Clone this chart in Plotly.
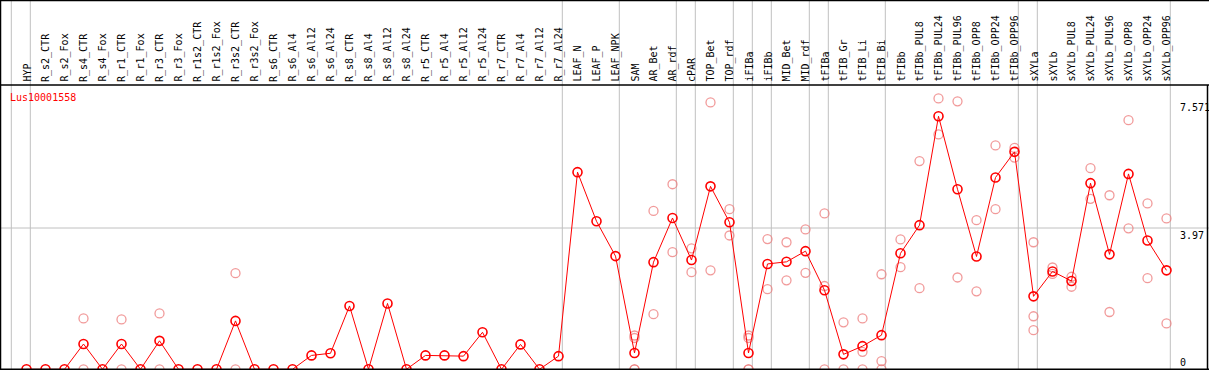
import plotly.graph_objects as go

categories = ["HYP", "R_s2_CTR", "R_s2_Fox", "R_s4_CTR", "R_s4_Fox", "R_r1_CTR", "R_r1_Fox",
              "R_r3_CTR", "R_r3_Fox", "R_r1s2_CTR", "R_r1s2_Fox", "R_r3s2_CTR", "R_r3s2_Fox",
              "R_s6_CTR", "R_s6_Al4", "R_s6_Al12", "R_s6_Al24", "R_s8_CTR", "R_s8_Al4",
              "R_s8_Al12", "R_s8_Al24", "R_r5_CTR", "R_r5_Al4", "R_r5_Al12", "R_r5_Al24",
              "R_r7_CTR", "R_r7_Al4", "R_r7_Al12", "R_r7_Al24", "LEAF_N", "LEAF_P", "LEAF_NPK",
              "SAM", "AR_Bet", "AR_rdf", "cPAR", "TOP_Bet", "TOP_rdf", "iFIBa", "iFIBb",
              "MID_Bet", "MID_rdf", "tFIBa", "tFIB_Gr", "tFIB_Li", "tFIB_Bi", "tFIBb",
              "tFIBb_PUL8", "tFIBb_PUL24", "tFIBb_PUL96", "tFIBb_OPP8", "tFIBb_OPP24",
              "tFIBb_OPP96", "sXYLa", "sXYLb", "sXYLb_PUL8", "sXYLb_PUL24", "sXYLb_PUL96",
              "sXYLb_OPP8", "sXYLb_OPP24", "sXYLb_OPP96"]

means = [0, 0, 0, 0.71, 0, 0.71, 0, 0.80, 0, 0, 0, 1.36, 0, 0, 0,
         0.39, 0.45, 1.78, 0, 1.85, 0, 0.39, 0.39, 0.37, 1.04, 0, 0.70, 0, 0.37,
         5.54, 4.16, 3.18, 0.46, 3.01, 4.25, 3.07, 5.14, 4.13, 0.46, 2.96, 3.02, 3.32,
         2.22, 0.42, 0.65, 0.96, 3.26, 4.05, 7.11, 5.06, 3.17, 5.39, 6.11, 2.05, 2.75,
         2.48, 5.23, 3.23, 5.49, 3.62, 2.78]

replicates = {
    "R_s4_CTR": [1.43, 0], "R_r1_CTR": [1.40, 0], "R_r3_CTR": [1.57, 0],
    "R_r3s2_CTR": [2.70, 0],
    "SAM": [0.95, 0.88, 0, 0], "AR_Bet": [4.45, 1.55], "AR_rdf": [5.20, 3.29],
    "cPAR": [3.40, 2.73], "TOP_Bet": [7.50, 2.78], "TOP_rdf": [4.50, 3.76],
    "iFIBa": [0.95, 0.88, 0, 0], "iFIBb": [3.66, 2.25], "MID_Bet": [3.57, 2.50],
    "MID_rdf": [3.93, 2.71], "tFIBa": [4.38, 2.34, 0], "tFIB_Gr": [1.32, 0],
    "tFIB_Li": [1.43, 0.49, 0], "tFIB_Bi": [2.67, 0.23, 0], "tFIBb": [3.65, 2.87],
    "tFIBb_PUL8": [5.85, 2.28], "tFIBb_PUL24": [7.61, 6.60], "tFIBb_PUL96": [7.53, 2.58],
    "tFIBb_OPP8": [4.19, 2.19], "tFIBb_OPP24": [6.29, 4.50], "tFIBb_OPP96": [6.22, 5.95],
    "sXYLa": [3.57, 1.49, 1.10], "sXYLb": [2.86, 2.68], "sXYLb_PUL8": [2.60, 2.32],
    "sXYLb_PUL24": [5.65, 4.79], "sXYLb_PUL96": [4.89, 1.61], "sXYLb_OPP8": [7.00, 3.96],
    "sXYLb_OPP24": [4.66, 2.56], "sXYLb_OPP96": [4.24, 1.29],
}

group_ends = ["HYP", "R_r7_Al24", "LEAF_NPK", "AR_rdf", "cPAR", "TOP_rdf", "iFIBa", "iFIBb",
              "MID_rdf", "tFIBa", "tFIB_Bi", "tFIBb_OPP96", "sXYLa", "sXYLb_OPP96"]

gene_name = "Lus10001558"
ytick_vals = [7.571, 3.97, 0]
ytick_text = ["7.571", "3.97", "0"]

W, H = 1209, 370
X0, DX = 26.5, 19.0          # pixel position of first category and spacing
Y0, DY = 369.3, 35.59        # pixel of zero and pixels per unit
HEADER = 85

xs = list(range(len(categories)))
idx = {c: i for i, c in enumerate(categories)}

rx, ry = [], []
for c, vals in replicates.items():
    for v in vals:
        rx.append(idx[c])
        ry.append(v)

xr0 = -X0 / DX
xr1 = xr0 + W / DX
yr0 = (Y0 - H) / DY
yr1 = Y0 / DY

def py(pix):
    return (H - pix) / H

fig = go.Figure()
fig.add_trace(go.Scatter(x=rx, y=ry, mode="markers", hoverinfo="skip",
                         marker=dict(symbol="circle-open", size=9, color="rgba(236,120,120,0.75)",
                                     line=dict(width=1.3))))
fig.add_trace(go.Scatter(x=xs, y=means, mode="lines+markers",
                         line=dict(color="#ff0000", width=1),
                         marker=dict(symbol="circle-open", size=9, color="#ff0000",
                                     line=dict(width=1.6))))

shapes = []
grid = "#c0c0c0"
for g in [-1] + [idx[c] for c in group_ends]:
    shapes.append(dict(type="line", xref="x", yref="paper", x0=g + 0.2, x1=g + 0.2,
                       y0=0, y1=1, line=dict(color=grid, width=1), layer="below"))
shapes.append(dict(type="line", xref="paper", yref="y", x0=0, x1=1, y0=3.97, y1=3.97,
                   line=dict(color=grid, width=1), layer="below"))
blk = dict(color="black", width=1.5)
shapes.append(dict(type="line", xref="paper", yref="paper", x0=0, x1=1, y0=py(0.5), y1=py(0.5), line=blk))
shapes.append(dict(type="line", xref="paper", yref="paper", x0=0, x1=1, y0=py(HEADER), y1=py(HEADER), line=blk))
shapes.append(dict(type="line", xref="paper", yref="y", x0=0, x1=1, y0=0, y1=0, line=blk))
shapes.append(dict(type="line", xref="paper", yref="paper", x0=0.5 / W, x1=0.5 / W, y0=0, y1=1, line=blk))
shapes.append(dict(type="line", xref="paper", yref="paper", x0=1207.5 / W, x1=1207.5 / W,
                   y0=0, y1=py(HEADER), line=blk))

font = "DejaVu Sans Mono, monospace"
ann = []
for i, c in enumerate(categories):
    ann.append(dict(x=i, xref="x", y=py(83), yref="paper", text=c, textangle=-90,
                    showarrow=False, xanchor="center", yanchor="bottom",
                    font=dict(family=font, size=10, color="black"), borderpad=0))
ann.append(dict(x=9 / W, xref="paper", y=py(97), yref="paper", text=gene_name,
                showarrow=False, xanchor="left", yanchor="middle",
                font=dict(family=font, size=10, color="red"), borderpad=0))
for v, t in zip(ytick_vals, ytick_text):
    ann.append(dict(x=1179 / W, xref="paper", y=v, yref="y", text=t, showarrow=False,
                    xanchor="left", yanchor="bottom" if v == 0 else "top",
                    yshift=0 if v == 0 else -1,
                    font=dict(family=font, size=10, color="black"), borderpad=0))

fig.update_layout(
    width=W, height=H, autosize=False,
    margin=dict(l=0, r=0, t=0, b=0),
    paper_bgcolor="white", plot_bgcolor="white",
    showlegend=False,
    xaxis=dict(range=[xr0, xr1], visible=False, fixedrange=True),
    yaxis=dict(range=[yr0, yr1], visible=False, fixedrange=True),
    shapes=shapes, annotations=ann,
)

fig.write_html("out.html", config={"displayModeBar": False},
               post_script="document.body.style.margin='0';document.body.style.overflow='hidden';")
